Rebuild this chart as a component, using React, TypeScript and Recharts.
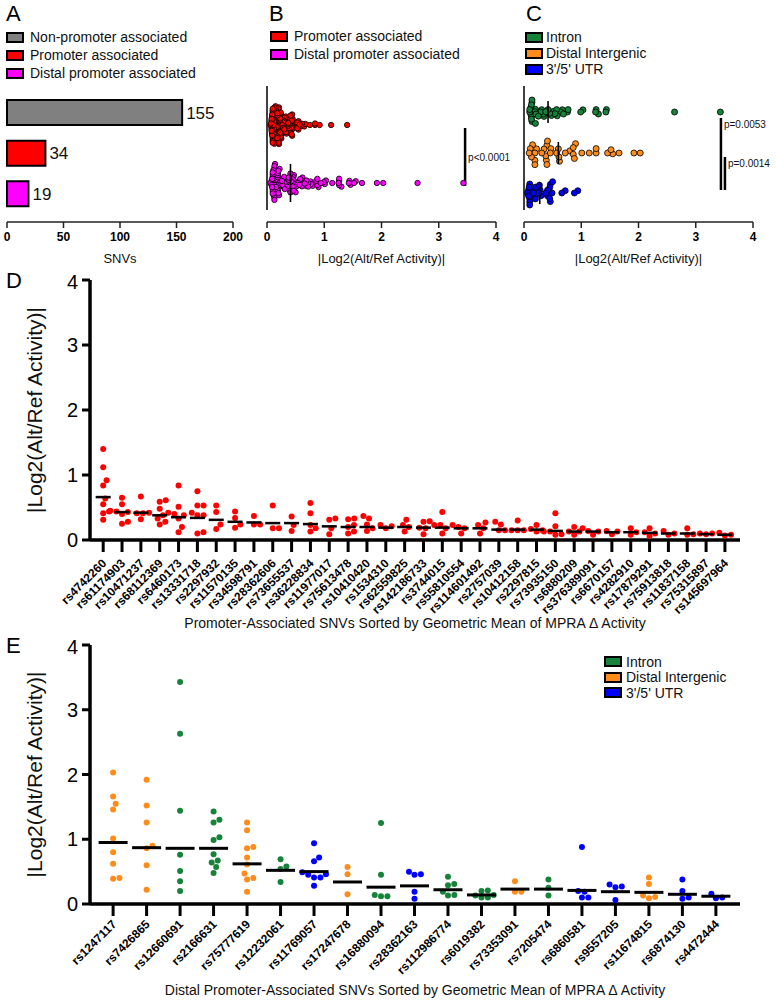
import React from 'react';
import {
  BarChart, Bar, XAxis, YAxis, ScatterChart, Scatter, ReferenceLine, LabelList, Cell,
} from 'recharts';

const FONT = '"Liberation Sans", Arial, Helvetica, sans-serif';

// ---------- Panel A ----------
const snvCategories = ['Non-promoter associated', 'Promoter associated', 'Distal promoter associated'];
const snvCounts = [155, 34, 19];
const snvColors = ['#808080', '#ff0000', '#ff00ff'];
const snvTicks = [0, 50, 100, 150, 200];

// ---------- Panel D ----------
const promoterSNVs = [
  'rs4742260', 'rs61174903', 'rs10471237', 'rs68112369', 'rs6460173', 'rs13331718', 'rs2297932',
  'rs11570135', 'rs34598791', 'rs28362606', 'rs73655537', 'rs36228834', 'rs11977017', 'rs75613478',
  'rs10410420', 'rs1534310', 'rs62559825', 'rs142186733', 'rs3744015', 'rs55810554', 'rs114601492',
  'rs2757039', 'rs10412158', 'rs2297815', 'rs73935150', 'rs6880209', 'rs376389091', 'rs6670157',
  'rs4282910', 'rs17879291', 'rs75913818', 'rs11837158', 'rs75315897', 'rs145697964',
];
const promoterValues: number[][] = [
  [1.40, 1.12, 0.92, 0.84, 0.64, 0.55, 0.44, 0.41, 0.31],
  [0.65, 0.55, 0.45, 0.44, 0.43, 0.40, 0.28, 0.25],
  [0.67, 0.42, 0.41, 0.41, 0.32],
  [0.61, 0.59, 0.48, 0.38, 0.33, 0.28, 0.24],
  [0.84, 0.51, 0.42, 0.40, 0.38, 0.33, 0.20, 0.12],
  [0.75, 0.53, 0.53, 0.42, 0.38, 0.38, 0.12, 0.10],
  [0.53, 0.43, 0.24, 0.17],
  [0.44, 0.34, 0.24, 0.19],
  [0.37, 0.24, 0.24],
  [0.53, 0.18, 0.18],
  [0.36, 0.23, 0.14],
  [0.57, 0.41, 0.23, 0.18, 0.13],
  [0.33, 0.31, 0.18, 0.09],
  [0.33, 0.32, 0.23, 0.20, 0.13, 0.10],
  [0.37, 0.33, 0.24, 0.18, 0.14],
  [0.23, 0.21, 0.18],
  [0.31, 0.23, 0.20, 0.13],
  [0.29, 0.28, 0.19, 0.18, 0.09],
  [0.43, 0.23, 0.23, 0.18, 0.10],
  [0.23, 0.20, 0.18, 0.10],
  [0.27, 0.23, 0.18, 0.10],
  [0.28, 0.24, 0.15, 0.15],
  [0.30, 0.15, 0.15, 0.15],
  [0.23, 0.17, 0.15, 0.13],
  [0.41, 0.21, 0.13, 0.13, 0.09, 0.08],
  [0.20, 0.13, 0.13, 0.08],
  [0.18, 0.14, 0.13, 0.08],
  [0.14, 0.13, 0.09],
  [0.18, 0.12, 0.08],
  [0.18, 0.12, 0.10, 0.06],
  [0.14, 0.10, 0.08],
  [0.18, 0.09, 0.08],
  [0.10, 0.10, 0.09],
  [0.11, 0.08, 0.07],
];
const promoterMeans = [
  0.66, 0.43, 0.42, 0.38, 0.35, 0.34, 0.31, 0.28, 0.27, 0.26, 0.26, 0.245, 0.21, 0.20, 0.20, 0.19, 0.20,
  0.19, 0.19, 0.18, 0.18, 0.16, 0.16, 0.16, 0.14, 0.13, 0.13, 0.12, 0.12, 0.11, 0.10, 0.10, 0.09, 0.08,
];

// ---------- Panel E ----------
const distalSNVs = [
  'rs1247117', 'rs7426865', 'rs12660691', 'rs2166631', 'rs75777619', 'rs12232061', 'rs11769057',
  'rs17247678', 'rs16880094', 'rs28362163', 'rs112986774', 'rs6019382', 'rs73353091', 'rs7205474',
  'rs6860581', 'rs9557205', 'rs11674815', 'rs6874130', 'rs4472444',
];
const distalAnnotations = [
  'Distal Intergenic', 'Distal Intergenic', 'Intron', 'Intron', 'Distal Intergenic', 'Intron', "3'/5' UTR",
  'Distal Intergenic', 'Intron', "3'/5' UTR", 'Intron', 'Intron', 'Distal Intergenic', 'Intron',
  "3'/5' UTR", "3'/5' UTR", 'Distal Intergenic', "3'/5' UTR", "3'/5' UTR",
];
const distalValues: number[][] = [
  [2.03, 1.66, 1.55, 1.46, 1.01, 0.80, 0.62, 0.40, 0.39],
  [1.92, 1.52, 1.26, 0.90, 0.86, 0.60, 0.22],
  [3.43, 2.63, 1.44, 0.76, 0.51, 0.35, 0.20],
  [1.43, 1.30, 1.26, 1.03, 0.99, 0.77, 0.67, 0.64, 0.57, 0.48],
  [1.26, 1.14, 0.88, 0.86, 0.72, 0.61, 0.47, 0.40, 0.38, 0.19],
  [0.69, 0.58, 0.54, 0.34],
  [0.94, 0.72, 0.66, 0.49, 0.46, 0.45, 0.41, 0.41, 0.28],
  [0.57, 0.46, 0.15],
  [1.25, 0.45, 0.14, 0.12, 0.12],
  [0.50, 0.46, 0.45, 0.19, 0.08],
  [0.42, 0.31, 0.29, 0.19, 0.14, 0.13],
  [0.21, 0.20, 0.14, 0.13, 0.10, 0.10],
  [0.35, 0.19, 0.19],
  [0.38, 0.25, 0.13],
  [0.88, 0.20, 0.19, 0.10, 0.10],
  [0.30, 0.27, 0.26, 0.06],
  [0.41, 0.31, 0.13, 0.11, 0.09],
  [0.38, 0.20, 0.10, 0.08],
  [0.16, 0.10, 0.09],
];
const distalMeans = [
  0.95, 0.87, 0.86, 0.86, 0.62, 0.52, 0.50, 0.34, 0.26, 0.28, 0.22, 0.14, 0.23, 0.23, 0.21, 0.19, 0.18, 0.15, 0.12,
];

const annotationTypes = ['Intron', 'Distal Intergenic', "3'/5' UTR"];
const annotationColors = ['#17823a', '#ff8c1a', '#0000ff'];

const activityTicks = [0, 1, 2, 3, 4];
const bStats = [{ x1: 3.46, from: 36, to: 94, text: 'p<0.0001' }];
const cStats = [
  { x1: 3.44, from: 32, to: 104, text: 'p=0.0053' },
  { x1: 3.51, from: 32, to: 65, text: 'p=0.0014' },
];

// ---------- helpers ----------
function swarm(vals: number[], scale: number, d: number): number[] {
  const order = vals.map((_, i) => i).sort((a, b) => vals[a] - vals[b]);
  const placed: { x: number; y: number }[] = [];
  const out = new Array(vals.length).fill(0);
  for (const i of order) {
    const x = vals[i] * scale;
    const near = placed.filter((p) => Math.abs(p.x - x) < d);
    const cands = [0];
    for (const p of near) {
      const dy = Math.sqrt(d * d - (p.x - x) ** 2);
      cands.push(p.y + dy, p.y - dy);
    }
    cands.sort((a, b) => Math.abs(a) - Math.abs(b));
    let y = 0;
    for (const c of cands) {
      if (near.every((p) => (p.x - x) ** 2 + (p.y - c) ** 2 >= d * d - 1e-6)) { y = c; break; }
    }
    placed.push({ x, y });
    out[i] = y;
  }
  return out;
}
function median(a: number[]): number {
  const s = [...a].sort((x, y) => x - y);
  const m = Math.floor(s.length / 2);
  return s.length % 2 ? s[m] : (s[m - 1] + s[m]) / 2;
}

const D_PX_Y = 65;
const D_PX_X = 650 / 34.5;
const E_PX_X = 650 / 19.41;
const promoterPoints = promoterValues.flatMap((vals, i) => {
  const offs = swarm(vals, D_PX_Y, 6.2);
  return vals.map((v, j) => ({ x: i + offs[j] / D_PX_X, y: v }));
});
const promoterMeanPts = promoterMeans.map((m, i) => ({ x: i, y: m }));
const distalPointsByType = annotationTypes.map((t) =>
  distalValues.flatMap((vals, i) => {
    if (distalAnnotations[i] !== t) return [];
    const offs = swarm(vals, D_PX_Y, 6.4);
    return vals.map((v, j) => ({ x: i + offs[j] / E_PX_X, y: v }));
  }),
);
const distalMeanPts = distalMeans.map((m, i) => ({ x: i, y: m }));

const B_SCALE = 229 / 4;
const bGroups = [
  { vals: promoterValues.flat(), color: '#ff0000', center: 97, half: 19, fit: 19, d: 2.6 },
  { vals: distalValues.flat(), color: '#ff00ff', center: 39, half: 19, fit: 19, d: 3.2 },
];
const cCenters = [110, 69, 29];
const cGroups = annotationTypes.map((t, k) => ({
  vals: distalValues.filter((_, i) => distalAnnotations[i] === t).flat(),
  color: annotationColors[k], center: cCenters[k], half: 11, fit: 12, d: 5.2,
}));
function swarmPoints(g: { vals: number[]; center: number; d: number; fit: number }) {
  const offs = swarm(g.vals, B_SCALE, g.d);
  const maxAbs = Math.max(...offs.map(Math.abs), 1e-9);
  const f = Math.min(1, g.fit / maxAbs);
  return g.vals.map((v, i) => ({ x: v, y: g.center + offs[i] * f }));
}

// ---------- shapes ----------
const dot = (color: string, r: number, stroke?: string) => (p: any) => (
  <circle cx={p.cx} cy={p.cy} r={r} fill={color} stroke={stroke || 'none'} strokeWidth={stroke ? 0.8 : 0} />
);
const hLine = (w: number, sw: number) => (p: any) => (
  <line x1={p.cx - w} x2={p.cx + w} y1={p.cy} y2={p.cy} stroke="#000" strokeWidth={sw} />
);
const vLine = (h: number) => (p: any) => (
  <line x1={p.cx} x2={p.cx} y1={p.cy - h} y2={p.cy + h} stroke="#000" strokeWidth={1.6} />
);
const rotTick = (labels: string[]) => (props: any) => {
  const { x, y, payload } = props;
  return (
    <g transform={`translate(${x + 4},${y})`}>
      <text textAnchor="end" transform="rotate(-45)" fontSize={12} fontWeight="bold" fontFamily={FONT} fill="#000">
        {labels[Math.round(payload.value)]}
      </text>
    </g>
  );
};

function Letter({ ch, left, top }: { ch: string; left: number; top: number }) {
  return (
    <div style={{ position: 'absolute', left, top, fontSize: 22, lineHeight: '24px', fontFamily: FONT, color: '#000' }}>{ch}</div>
  );
}
function LegendBox({ items, colors, left, top, rowH, gap }: { items: string[]; colors: string[]; left: number; top: number; rowH: number; gap: number }) {
  return (
    <div style={{ position: 'absolute', left, top, fontFamily: FONT, fontSize: 14, color: '#111' }}>
      {items.map((it, i) => (
        <div key={it} style={{ display: 'flex', alignItems: 'center', height: rowH, whiteSpace: 'nowrap' }}>
          <div style={{ width: 18, height: 11, boxSizing: 'border-box', border: '2px solid #000', background: colors[i], marginRight: gap }} />
          <span>{it}</span>
        </div>
      ))}
    </div>
  );
}

const smallTick = { fontSize: 12, fontWeight: 'bold' as const, fill: '#000', fontFamily: FONT };
const axisTitle = (value: string, offset: number, fontSize = 13) => ({
  value, position: 'insideBottom' as const, offset, fontSize, fill: '#111', fontFamily: FONT,
});

export default function App() {
  const aData = snvCategories.map((c, i) => ({ name: c, value: snvCounts[i] }));
  const bPts = bGroups.map(swarmPoints);
  const cPts = cGroups.map(swarmPoints);
  const activityTitle = '|Log2(Alt/Ref Activity)|';

  return (
    <div style={{ position: 'absolute', left: 0, top: 0, width: 776, height: 1000, background: '#fff', fontFamily: FONT }}>
      <style>{`svg text { font-family: ${FONT}; }`}</style>
      <Letter ch="A" left={6} top={2} />
      <Letter ch="B" left={269} top={2} />
      <Letter ch="C" left={526} top={2} />
      <Letter ch="D" left={6} top={269} />
      <Letter ch="E" left={6} top={634} />

      <LegendBox items={snvCategories} colors={snvColors} left={6} top={28} rowH={18} gap={6} />
      <LegendBox items={snvCategories.slice(1)} colors={snvColors.slice(1)} left={270} top={27} rowH={18} gap={6} />
      <LegendBox items={annotationTypes} colors={annotationColors} left={525} top={29} rowH={16} gap={3} />
      <LegendBox items={annotationTypes} colors={annotationColors} left={604} top={654} rowH={15.5} gap={4} />

      {/* Panel A */}
      <div style={{ position: 'absolute', left: 0, top: 88 }}>
        <BarChart width={260} height={184} data={aData} layout="vertical" margin={{ top: 4, right: 27, left: 7, bottom: 0 }}>
          <XAxis type="number" domain={[0, 200]} ticks={snvTicks} tickSize={6} tickMargin={4} height={50}
            tick={smallTick} axisLine={{ stroke: '#222', strokeWidth: 1.5 }} tickLine={{ stroke: '#222', strokeWidth: 1.5 }}
            label={axisTitle('SNVs', 9)} />
          <YAxis type="category" dataKey="name" hide padding={{ top: 0, bottom: 8 }} />
          <Bar dataKey="value" barSize={25} stroke="#000" strokeWidth={2} isAnimationActive={false}>
            {aData.map((d, i) => <Cell key={d.name} fill={snvColors[i]} />)}
            <LabelList dataKey="value" position="right" offset={4} fontSize={17} fill="#111" fontFamily={FONT} />
          </Bar>
        </BarChart>
      </div>

      {/* Panel B */}
      <div style={{ position: 'absolute', left: 250, top: 80 }}>
        <ScatterChart width={270} height={186} margin={{ top: 6, right: 24, left: 17, bottom: 0 }}>
          <XAxis type="number" dataKey="x" domain={[0, 4]} ticks={activityTicks} tickSize={6} tickMargin={4} height={44}
            tick={smallTick} axisLine={{ stroke: '#222', strokeWidth: 1.5 }} tickLine={{ stroke: '#222', strokeWidth: 1.5 }}
            label={axisTitle(activityTitle, 3)} />
          <YAxis type="number" dataKey="y" domain={[0, 136]} hide />
          <ReferenceLine segment={[{ x: 0, y: 12 }, { x: 0, y: 136 }]} stroke="#000" strokeWidth={1.5} />
          <Scatter data={[{ x: median(bGroups[0].vals), y: bGroups[0].center }]} shape={vLine(bGroups[0].half)} isAnimationActive={false} />
          {bPts.map((pts, k) => (
            <Scatter key={k} data={pts} shape={dot(bGroups[k].color, 2.7, '#000')} isAnimationActive={false} />
          ))}
          <Scatter data={[{ x: median(bGroups[1].vals), y: bGroups[1].center }]} shape={vLine(bGroups[1].half)} isAnimationActive={false} />
          {bStats.map((s) => (
            <ReferenceLine key={s.text} segment={[{ x: s.x1, y: s.from }, { x: s.x1, y: s.to }]} stroke="#000" strokeWidth={2.5}
              label={{ value: s.text, position: 'right', offset: 3, fontSize: 10, fill: '#111', fontFamily: FONT }} />
          ))}
        </ScatterChart>
      </div>

      {/* Panel C */}
      <div style={{ position: 'absolute', left: 507, top: 80 }}>
        <ScatterChart width={270} height={186} margin={{ top: 6, right: 24, left: 17, bottom: 0 }}>
          <XAxis type="number" dataKey="x" domain={[0, 4]} ticks={activityTicks} tickSize={6} tickMargin={4} height={44}
            tick={smallTick} axisLine={{ stroke: '#222', strokeWidth: 1.5 }} tickLine={{ stroke: '#222', strokeWidth: 1.5 }}
            label={axisTitle(activityTitle, 3)} />
          <YAxis type="number" dataKey="y" domain={[0, 136]} hide />
          <ReferenceLine segment={[{ x: 0, y: 12 }, { x: 0, y: 136 }]} stroke="#000" strokeWidth={1.5} />
          {cPts.map((pts, k) => (
            <Scatter key={k} data={pts} shape={dot(cGroups[k].color, 3, '#000')} isAnimationActive={false} />
          ))}
          {cGroups.map((g, k) => (
            <Scatter key={'m' + k} data={[{ x: median(g.vals), y: g.center }]} shape={vLine(g.half)} isAnimationActive={false} />
          ))}
          {cStats.map((s) => (
            <ReferenceLine key={s.text} segment={[{ x: s.x1, y: s.from }, { x: s.x1, y: s.to }]} stroke="#000" strokeWidth={2.5}
              label={{ value: s.text, position: 'insideTopLeft', offset: 3, fontSize: 10, fill: '#111', fontFamily: FONT }} />
          ))}
        </ScatterChart>
      </div>

      {/* Panel D */}
      <div style={{ position: 'absolute', left: 0, top: 270 }}>
        <ScatterChart width={760} height={365} margin={{ top: 10, right: 20, left: 0, bottom: 0 }}>
          <XAxis type="number" dataKey="x" domain={[-0.7, 33.8]} ticks={promoterSNVs.map((_, i) => i)} interval={0}
            tickSize={12} tickMargin={12} height={95} tick={rotTick(promoterSNVs)}
            axisLine={{ stroke: '#000', strokeWidth: 3.5 }} tickLine={{ stroke: '#000', strokeWidth: 3 }}
            label={axisTitle('Promoter-Associated SNVs Sorted by Geometric Mean of MPRA Δ Activity', 7, 14)} />
          <YAxis type="number" dataKey="y" domain={[0, 4]} ticks={activityTicks} width={90} tickSize={8} tickMargin={4}
            tick={{ fontSize: 20, fill: '#000', fontFamily: FONT }}
            axisLine={{ stroke: '#000', strokeWidth: 3.5 }} tickLine={{ stroke: '#000', strokeWidth: 3 }}
            label={{ value: activityTitle, angle: -90, position: 'insideLeft', offset: 35, fontSize: 21, fill: '#111', fontFamily: FONT, style: { textAnchor: 'middle' } }} />
          <Scatter data={promoterPoints} shape={dot('#ff0000', 3)} isAnimationActive={false} />
          <Scatter data={promoterMeanPts} shape={hLine(7.5, 2.5)} isAnimationActive={false} />
        </ScatterChart>
      </div>

      {/* Panel E */}
      <div style={{ position: 'absolute', left: 0, top: 635 }}>
        <ScatterChart width={760} height={363} margin={{ top: 10, right: 20, left: 0, bottom: 0 }}>
          <XAxis type="number" dataKey="x" domain={[-0.69, 18.72]} ticks={distalSNVs.map((_, i) => i)} interval={0}
            tickSize={12} tickMargin={9} height={94} tick={rotTick(distalSNVs)}
            axisLine={{ stroke: '#000', strokeWidth: 3.5 }} tickLine={{ stroke: '#000', strokeWidth: 3 }}
            label={axisTitle('Distal Promoter-Associated SNVs Sorted by Geometric Mean of MPRA Δ Activity', 3, 14)} />
          <YAxis type="number" dataKey="y" domain={[0, 4]} ticks={activityTicks} width={90} tickSize={8} tickMargin={4}
            tick={{ fontSize: 20, fill: '#000', fontFamily: FONT }}
            axisLine={{ stroke: '#000', strokeWidth: 3.5 }} tickLine={{ stroke: '#000', strokeWidth: 3 }}
            label={{ value: activityTitle, angle: -90, position: 'insideLeft', offset: 35, fontSize: 21, fill: '#111', fontFamily: FONT, style: { textAnchor: 'middle' } }} />
          {distalPointsByType.map((pts, k) => (
            <Scatter key={k} data={pts} shape={dot(annotationColors[k], 3)} isAnimationActive={false} />
          ))}
          <Scatter data={distalMeanPts} shape={hLine(14.5, 3)} isAnimationActive={false} />
        </ScatterChart>
      </div>
    </div>
  );
}
